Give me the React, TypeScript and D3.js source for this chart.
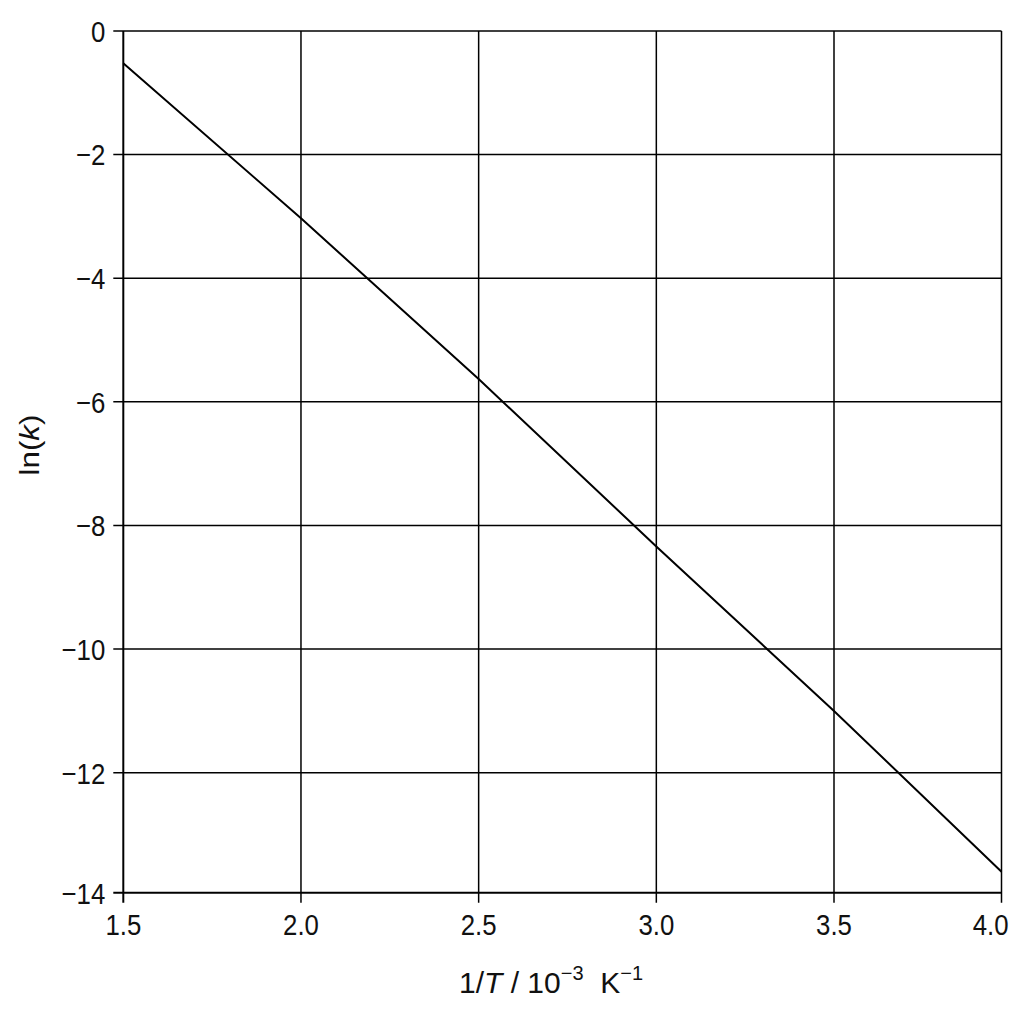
import React from 'react';
import * as d3 from 'd3';

// Arrhenius plot: ln(k) vs 1/T, values read at each grid line
const invT = [1.5, 2.0, 2.5, 3.0, 3.5, 4.0];
const lnK = [-0.52, -3.03, -5.63, -8.34, -11.0, -13.65];
const xTicks = [1.5, 2.0, 2.5, 3.0, 3.5, 4.0];
const yTicks = [0, -2, -4, -6, -8, -10, -12, -14];

const W = 1024;
const H = 1024;
const tickLen = 10;
const font = "'Liberation Sans', Arial, sans-serif";
const squeeze = 0.86; // tick labels are a bit condensed in the original

const App: React.FC = () => {
  // the last interval on both axes is a little shorter in the original
  const x = d3.scaleLinear().domain([1.5, 3.5, 4.0]).range([123.3, 834, 1001.5]);
  const y = d3.scaleLinear().domain([0, -12, -14]).range([31, 772.7, 892.7]);

  const left = x(1.5);
  const right = x(4.0);
  const top = y(0);
  const bottom = y(-14);

  const line = d3
    .line<number>()
    .x((_, i) => x(invT[i]))
    .y((d) => y(d));

  return (
    <svg
      width={W}
      height={H}
      style={{ position: 'absolute', left: 0, top: 0, background: '#fff' }}
    >
      <rect width={W} height={H} fill="#fff" />
      {/* horizontal grid + left ticks */}
      {yTicks.map((t) => (
        <g key={'y' + t}>
          <line
            x1={left - tickLen}
            x2={right}
            y1={y(t)}
            y2={y(t)}
            stroke="#000"
            strokeWidth={t === -14 ? 2 : 1.5}
          />
          <text
            transform={`translate(${left - 18},${y(t)}) scale(${squeeze},1)`}
            dy="0.36em"
            textAnchor="end"
            fontFamily={font}
            fontSize={30}
            fill="#111"
          >
            {t === 0 ? '0' : '\u2212' + Math.abs(t)}
          </text>
        </g>
      ))}
      {/* vertical grid + bottom ticks */}
      {xTicks.map((t, i) => {
        const last = i === xTicks.length - 1;
        return (
          <g key={'x' + t}>
            <line
              x1={x(t)}
              x2={x(t)}
              y1={top}
              y2={bottom + tickLen}
              stroke="#000"
              strokeWidth={i === 0 ? 2 : 1.5}
            />
            <text
              transform={`translate(${last ? x(t) + 7 : x(t)},${bottom + 42}) scale(${squeeze},1)`}
              textAnchor={last ? 'end' : 'middle'}
              fontFamily={font}
              fontSize={30}
              fill="#111"
            >
              {t.toFixed(1)}
            </text>
          </g>
        );
      })}
      {/* data line */}
      <path d={line(lnK) || ''} fill="none" stroke="#000" strokeWidth={2} />
      {/* axis titles */}
      <text
        x={551}
        y={993}
        textAnchor="middle"
        fontFamily={font}
        fontSize={30}
        fill="#111"
      >
        1/<tspan fontStyle="italic">T</tspan> / 10
        <tspan dy={-13} fontSize={20}>{'\u22123'}</tspan>
        <tspan dy={13}>{'\u00a0 K'}</tspan>
        <tspan dy={-13} fontSize={20}>{'\u22121'}</tspan>
      </text>
      <text
        transform="translate(39,445) rotate(-90) scale(1.12,1)"
        textAnchor="middle"
        fontFamily={font}
        fontSize={28}
        fill="#111"
      >
        ln(<tspan fontStyle="italic">k</tspan>)
      </text>
    </svg>
  );
};

export default App;
